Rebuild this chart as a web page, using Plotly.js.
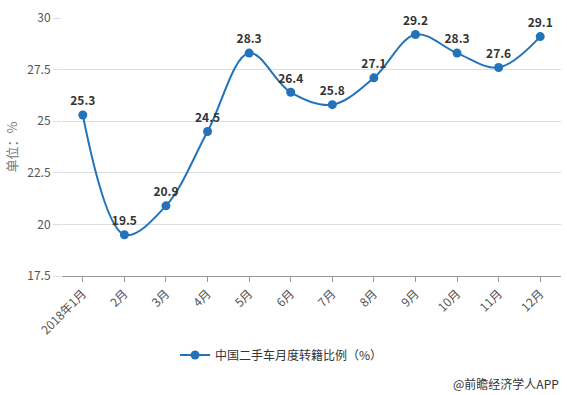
<!DOCTYPE html>
<html>
<head>
<meta charset="utf-8">
<script src="https://cdn.plot.ly/plotly-3.0.1.min.js"></script>
<style>html,body{margin:0;padding:0;background:#fff;}#chart{width:567px;height:395px;}</style>
</head>
<body>
<div id="chart"></div>
<script>
const categories = ["2018年1月","2月","3月","4月","5月","6月","7月","8月","9月","10月","11月","12月"];
const values = [25.3, 19.5, 20.9, 24.5, 28.3, 26.4, 25.8, 27.1, 29.2, 28.3, 27.6, 29.1];
const seriesName = "中国二手车月度转籍比例（%）";
const yTicks = [17.5, 20, 22.5, 25, 27.5, 30];
const yTickLabels = ["17.5", "20", "22.5", "25", "27.5", "30"];

const font = "'Noto Sans CJK SC', 'Microsoft YaHei', sans-serif";
const lineColor = "#2373B9";

const trace = {
  x: categories,
  y: values,
  name: seriesName,
  type: "scatter",
  mode: "lines+markers+text",
  line: {color: lineColor, width: 2, shape: "spline", smoothing: 1},
  marker: {color: lineColor, size: 9},
  text: values.map(v => "<b>" + v.toFixed(1) + "</b>"),
  textposition: "top center",
  textfont: {family: font, size: 12, color: "#333"},
  cliponaxis: false
};

const layout = {
  width: 567, height: 395,
  margin: {l: 62, r: 6, t: 18, b: 119},
  paper_bgcolor: "#fff", plot_bgcolor: "#fff",
  font: {family: font, size: 12, color: "#555"},
  showlegend: true,
  legend: {orientation: "h", x: 0.44, xanchor: "center", y: -0.306, yanchor: "middle",
           font: {family: font, size: 12, color: "#333"}},
  xaxis: {
    type: "category",
    automargin: false,
    range: [-0.5, categories.length - 0.5],
    tickangle: -45,
    ticks: "outside", ticklen: 5, tickcolor: "#999",
    showline: true, linecolor: "#999", linewidth: 1,
    showgrid: false, zeroline: false,
    tickfont: {family: font, size: 12, color: "#555"},
    fixedrange: true
  },
  yaxis: {
    automargin: false,
    range: [17.5, 30],
    tickvals: yTicks, ticktext: yTickLabels,
    showgrid: true, gridcolor: "#ddd", gridwidth: 1,
    zeroline: false, showline: false,
    ticks: "outside", ticklen: 8, tickcolor: "#ddd",
    tickfont: {family: font, size: 12, color: "#555"},
    title: {text: "单位：%", font: {family: font, size: 13, color: "#777"}, standoff: 6},
    fixedrange: true
  },
  annotations: [{
    text: "@前瞻经济学人APP",
    xref: "paper", yref: "paper",
    x: 1, xanchor: "right", y: (276 - 383) / 258, yanchor: "middle",
    showarrow: false,
    font: {family: font, size: 12, color: "#333"}
  }]
};

Plotly.newPlot("chart", [trace], layout, {displayModeBar: false, staticPlot: true});
</script>
</body>
</html>
